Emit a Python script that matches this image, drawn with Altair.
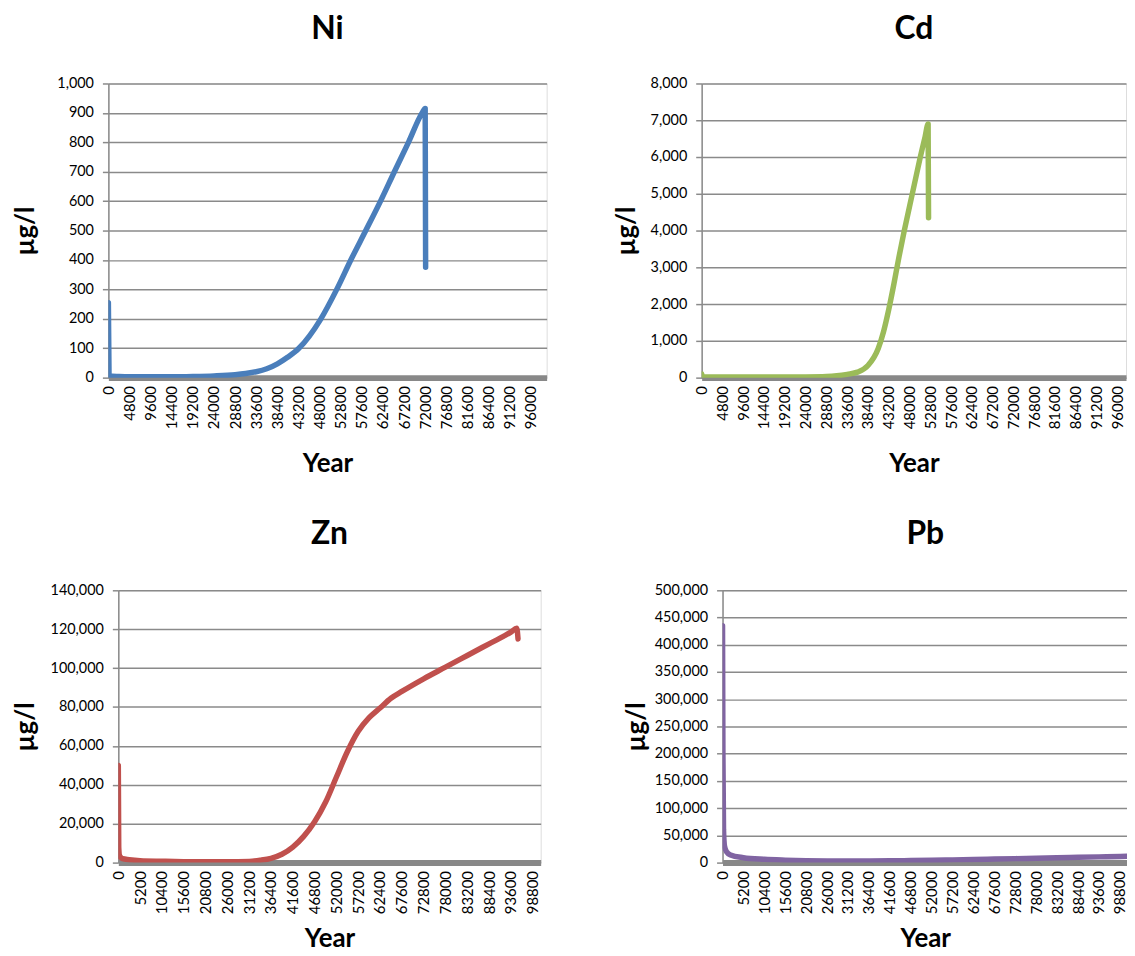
import altair as alt
import pandas as pd

# ---------------- data ----------------
ni_year = [0, 150, 2400, 4800, 9600, 14400, 19200, 24000, 28800, 31200, 33600, 36000,
           38400, 40800, 43300, 48300, 51900, 55100, 58500, 61850, 65000, 68200, 71300,
           72000, 72100]
ni_val = [255, 6, 4, 3, 3, 3, 4, 6, 10, 14, 20, 30,
          47, 70, 100, 200, 300, 400, 500, 600, 700, 800, 900,
          915, 375]

cd_year = [0, 150, 2400, 4800, 9600, 14400, 19200, 24000, 28800, 31200, 33600, 36000,
           38400, 40800, 42000, 43200, 44400, 45600, 46800, 48000, 49200, 50400, 51600,
           52300, 52400]
cd_val = [100, 20, 15, 15, 15, 15, 15, 18, 30, 50, 90, 150,
          330, 800, 1250, 1850, 2550, 3300, 4000, 4650, 5300, 5950, 6550,
          6900, 4350]

zn_year = [0, 100, 300, 1000, 2600, 5200, 10400, 15600, 20800, 26000, 31200, 33800,
           36400, 39000, 41600, 44200, 46800, 49400, 52000, 54600, 57200, 59800, 62400,
           65000, 67600, 72800, 78000, 83200, 88400, 93600, 95000, 95300]
zn_val = [50000, 8000, 3500, 2000, 1500, 1000, 700, 500, 400, 400, 600, 1200,
          2200, 4300, 8000, 13500, 21000, 31000, 44000, 57000, 67500, 74500, 79500,
          84500, 88000, 94500, 100500, 106500, 112500, 118500, 120500, 115000]

pb_year = [0, 100, 250, 500, 1000, 2000, 5200, 10400, 15600, 20800, 26000, 31200,
           36400, 41600, 46800, 52000, 57200, 62400, 67600, 72800, 78000, 83200, 88400,
           93600, 98800, 101000]
pb_val = [435000, 200000, 60000, 30000, 20000, 14000, 9000, 6000, 4500, 3500, 3000, 2800,
          3000, 3300, 3800, 4300, 5000, 5700, 6500, 7300, 8100, 8900, 9700,
          10500, 11300, 11600]

top_ticks = list(range(0, 96001, 4800))
bot_ticks = list(range(0, 98801, 5200))

FONT = "Lato"
GRID = "#8a8a8a"


def panel(name, years, vals, color, ymax, ystep, xmax, xticks, w, h, yext,
          toff, xtpad):
    df = pd.DataFrame({"Year": years, "v": vals})
    yticks = list(range(0, ymax + 1, ystep))
    return (
        alt.Chart(df, title=alt.Title(name, fontSize=32, font=FONT, fontWeight="bold",
                                      color="black", offset=toff, anchor="middle"))
        .mark_line(color=color, strokeWidth=5.5, strokeCap="round", strokeJoin="round",
                   interpolate="monotone", clip=True)
        .encode(
            x=alt.X("Year:Q",
                    scale=alt.Scale(domain=[0, xmax], nice=False, zero=True),
                    axis=alt.Axis(values=xticks, format="d", labelAngle=-90, title="Year",
                                  ticks=False, tickSize=0, labelPadding=8,
                                  grid=False, domainWidth=6, domainColor="#888888",
                                  labelFontSize=15, labelFont=FONT, labelColor="black",
                                  titleFontSize=26, titleFont=FONT, titleFontWeight="bold",
                                  titleColor="black", minExtent=56, maxExtent=56,
                                  titlePadding=xtpad, labelOverlap=False, labelFlush=False)),
            y=alt.Y("v:Q",
                    scale=alt.Scale(domain=[0, ymax], nice=False),
                    axis=alt.Axis(values=yticks, format=",d", title="µg/l",
                                  grid=True, gridColor=GRID, gridWidth=1.5,
                                  domainColor=GRID, domainWidth=1.5,
                                  tickColor=GRID, tickSize=6, tickWidth=1.5,
                                  labelPadding=9, labelFontSize=14.5, labelFont=FONT,
                                  labelColor="black",
                                  titleFontSize=26, titleFont=FONT, titleFontWeight="bold",
                                  titleColor="black", minExtent=yext, maxExtent=yext,
                                  titlePadding=6, labelOverlap=False)),
        )
        .properties(width=w, height=h)
    )


def spacer():
    # empty layout cell so that each row's first panel is placed by its own bounds
    return (
        alt.Chart(pd.DataFrame({"s": [0]}))
        .mark_point(opacity=0, size=1, strokeWidth=0)
        .encode(x=alt.X("s:Q", axis=None), y=alt.Y("s:Q", axis=None))
        .properties(width=1, height=1)
    )


ni = panel("Ni", ni_year, ni_val, "#4A7EBB", 1000, 100, 99600, top_ticks, 441, 296, 64, 30, 17)
cd = panel("Cd", cd_year, cd_val, "#9BBB59", 8000, 1000, 98000, top_ticks, 427, 296, 57, 30, 17)
zn = panel("Zn", zn_year, zn_val, "#C0504D", 140000, 20000, 100700, bot_ticks, 425, 274, 74, 32, 7)
pb = panel("Pb", pb_year, pb_val, "#8064A2", 500000, 50000, 100800, bot_ticks, 408, 274, 68, 32, 7)

chart = (
    alt.concat(spacer(), ni, cd, spacer(), zn, pb, columns=3,
               align=alt.RowColLayoutAlign(row="each", column="none"),
               spacing=alt.RowColnumber(row=40, column=65))
    .properties(padding={"left": -64, "top": 1, "right": -2, "bottom": -3})
    .configure_view(stroke=None)
    .configure(background="white")
)

chart.save("out.html", embed_options={"renderer": "svg", "actions": False})
